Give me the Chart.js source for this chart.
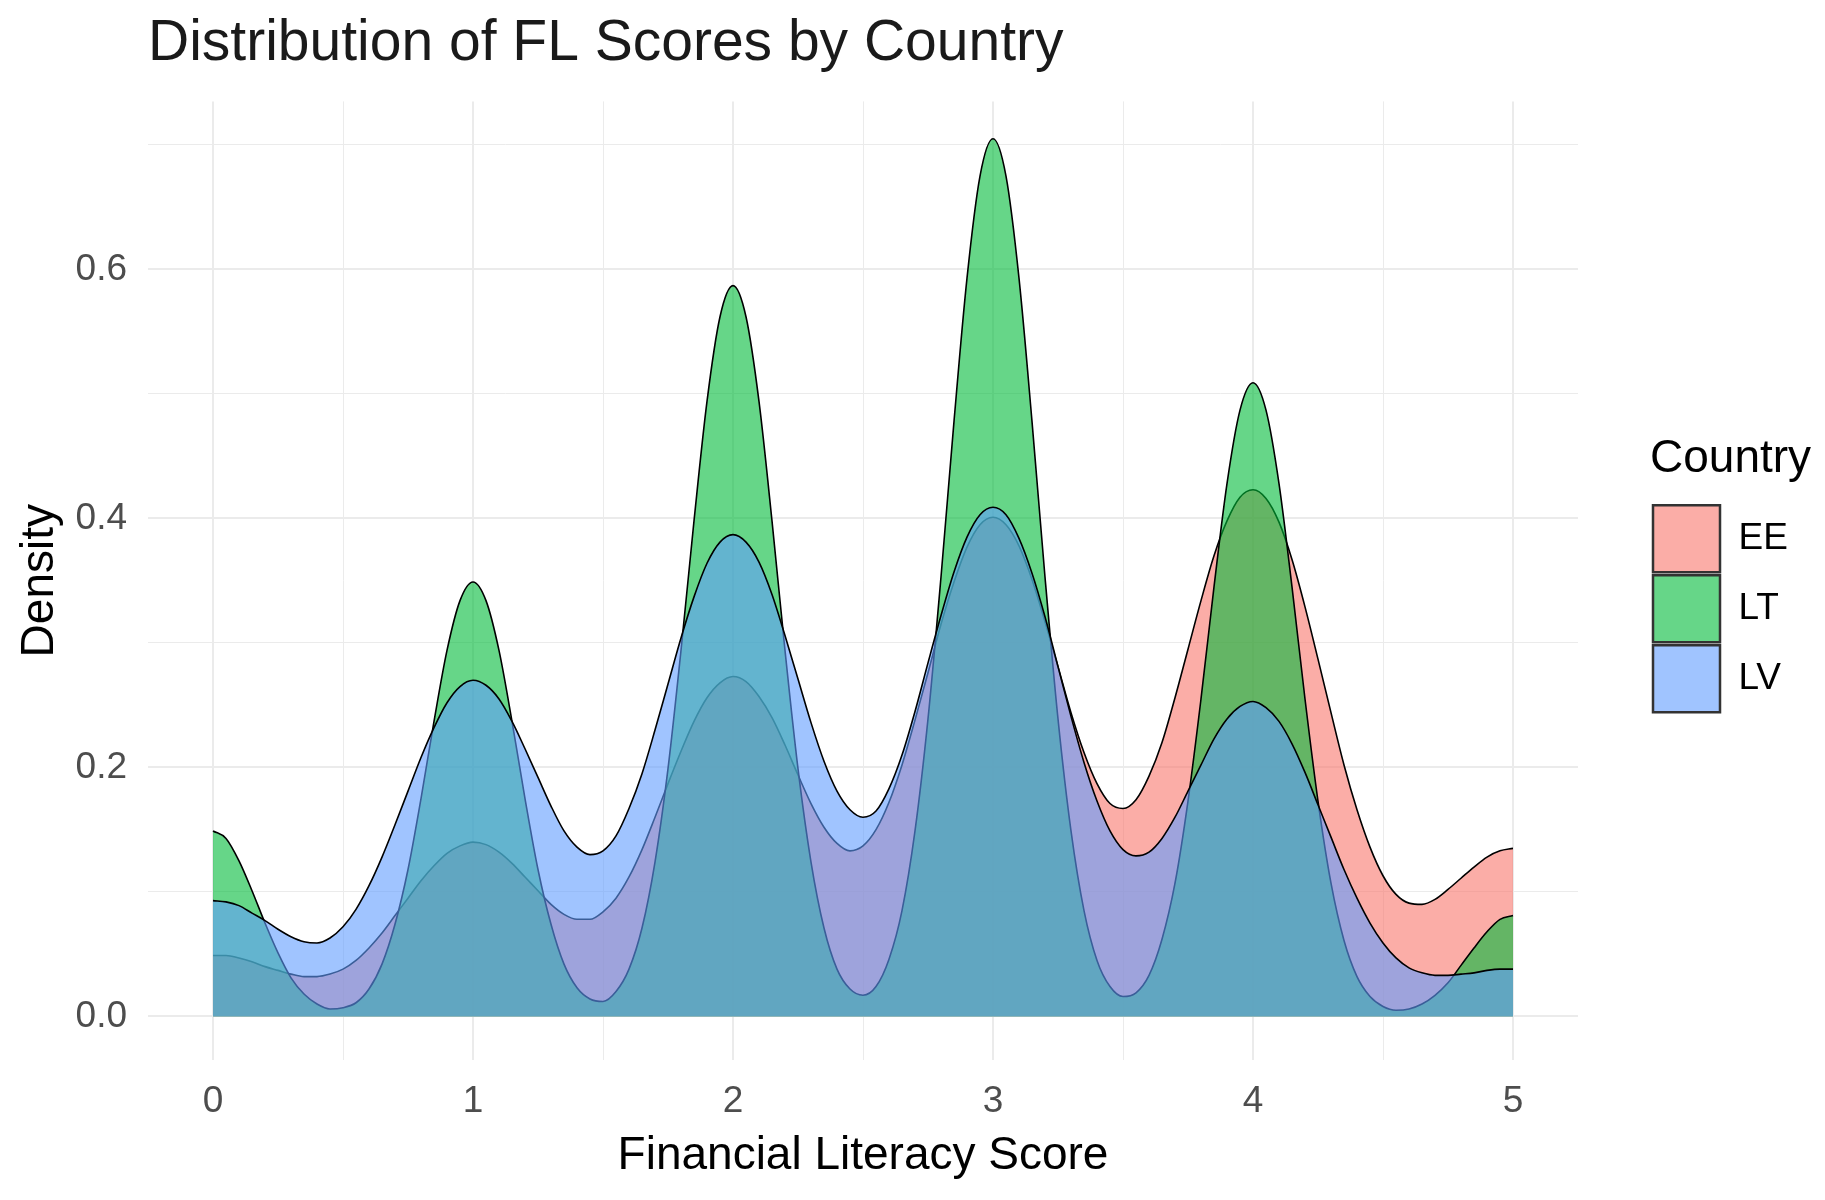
<!DOCTYPE html>
<html>
<head>
<meta charset="utf-8">
<title>Distribution of FL Scores by Country</title>
<script src="https://cdn.jsdelivr.net/npm/chart.js@4.4.1/dist/chart.umd.min.js"></script>
<style>
  html, body { margin: 0; padding: 0; background: #fff; }
  #wrap { width: 1825px; height: 1200px; }
</style>
</head>
<body>
<div id="wrap"><canvas id="densityChart" width="1825" height="1200"></canvas></div>
<script>
// groups, in ggplot layer order (EE drawn first, LV last / on top)
const countries = ['EE', 'LT', 'LV'];
const fillColors = ['rgba(248,118,109,0.6)', 'rgba(0,186,56,0.6)', 'rgba(97,156,255,0.6)'];

// score grid the densities were read at
const scores = [
  0, 0.05, 0.1, 0.15, 0.2, 0.25, 0.3, 0.35, 0.4, 0.45,
  0.5, 0.55, 0.6, 0.65, 0.7, 0.75, 0.8, 0.85, 0.9, 0.95,
  1, 1.05, 1.1, 1.15, 1.2, 1.25, 1.3, 1.35, 1.4, 1.45,
  1.5, 1.55, 1.6, 1.65, 1.7, 1.75, 1.8, 1.85, 1.9, 1.95,
  2, 2.05, 2.1, 2.15, 2.2, 2.25, 2.3, 2.35, 2.4, 2.45,
  2.5, 2.55, 2.6, 2.65, 2.7, 2.75, 2.8, 2.85, 2.9, 2.95,
  3, 3.05, 3.1, 3.15, 3.2, 3.25, 3.3, 3.35, 3.4, 3.45,
  3.5, 3.55, 3.6, 3.65, 3.7, 3.75, 3.8, 3.85, 3.9, 3.95,
  4, 4.05, 4.1, 4.15, 4.2, 4.25, 4.3, 4.35, 4.4, 4.45,
  4.5, 4.55, 4.6, 4.65, 4.7, 4.75, 4.8, 4.85, 4.9, 4.95,
  5
];

const densityEE = [
  0.049, 0.049, 0.047, 0.044, 0.040, 0.037, 0.034, 0.032, 0.032, 0.034,
  0.038, 0.045, 0.055, 0.067, 0.081, 0.095, 0.109, 0.121, 0.131, 0.137,
  0.140, 0.138, 0.132, 0.123, 0.112, 0.101, 0.090, 0.082, 0.078, 0.078,
  0.084, 0.095, 0.112, 0.134, 0.160, 0.187, 0.213, 0.237, 0.256, 0.268,
  0.273, 0.269, 0.257, 0.240, 0.218, 0.194, 0.171, 0.152, 0.139, 0.133,
  0.137, 0.150, 0.172, 0.202, 0.238, 0.276, 0.315, 0.349, 0.377, 0.395,
  0.401, 0.395, 0.378, 0.351, 0.317, 0.281, 0.244, 0.212, 0.187, 0.171,
  0.167, 0.174, 0.193, 0.220, 0.256, 0.295, 0.334, 0.370, 0.398, 0.417,
  0.423, 0.416, 0.397, 0.367, 0.329, 0.287, 0.244, 0.202, 0.166, 0.136,
  0.113, 0.098, 0.091, 0.090, 0.094, 0.102, 0.111, 0.120, 0.128, 0.133,
  0.135
];

const densityLT = [
  0.149, 0.143, 0.125, 0.101, 0.075, 0.051, 0.031, 0.018, 0.010, 0.006,
  0.007, 0.011, 0.022, 0.042, 0.074, 0.118, 0.175, 0.237, 0.294, 0.334,
  0.349, 0.334, 0.294, 0.237, 0.175, 0.118, 0.074, 0.042, 0.023, 0.014,
  0.012, 0.020, 0.038, 0.071, 0.124, 0.199, 0.294, 0.398, 0.494, 0.562,
  0.587, 0.562, 0.494, 0.398, 0.294, 0.199, 0.124, 0.071, 0.038, 0.022,
  0.017, 0.024, 0.046, 0.085, 0.149, 0.239, 0.353, 0.478, 0.593, 0.675,
  0.705, 0.675, 0.593, 0.478, 0.353, 0.239, 0.149, 0.085, 0.045, 0.024,
  0.016, 0.019, 0.033, 0.062, 0.107, 0.173, 0.255, 0.345, 0.428, 0.487,
  0.509, 0.487, 0.428, 0.345, 0.255, 0.173, 0.107, 0.061, 0.032, 0.016,
  0.008, 0.005, 0.006, 0.010, 0.017, 0.027, 0.041, 0.055, 0.068, 0.078,
  0.081
];

const densityLV = [
  0.093, 0.092, 0.089, 0.083, 0.077, 0.070, 0.064, 0.060, 0.059, 0.063,
  0.072, 0.086, 0.105, 0.128, 0.154, 0.181, 0.208, 0.232, 0.252, 0.265,
  0.270, 0.266, 0.255, 0.237, 0.215, 0.192, 0.169, 0.149, 0.136, 0.130,
  0.133, 0.145, 0.167, 0.195, 0.230, 0.267, 0.304, 0.337, 0.364, 0.381,
  0.387, 0.381, 0.365, 0.339, 0.306, 0.271, 0.236, 0.205, 0.181, 0.166,
  0.160, 0.165, 0.183, 0.210, 0.245, 0.284, 0.322, 0.357, 0.385, 0.403,
  0.409, 0.403, 0.384, 0.356, 0.321, 0.281, 0.241, 0.204, 0.173, 0.149,
  0.134, 0.129, 0.132, 0.143, 0.160, 0.181, 0.202, 0.223, 0.239, 0.249,
  0.253, 0.248, 0.237, 0.219, 0.196, 0.170, 0.144, 0.118, 0.095, 0.075,
  0.059, 0.047, 0.039, 0.035, 0.033, 0.033, 0.034, 0.035, 0.037, 0.038,
  0.038
];

// grid lines (major + minor) and which of them carry a label
const xTicks = [0, 0.5, 1, 1.5, 2, 2.5, 3, 3.5, 4, 4.5, 5];
const xLabelTicks = [0, 1, 2, 3, 4, 5];
const yTicks = [0, 0.1, 0.2, 0.3, 0.4, 0.5, 0.6, 0.7];
const yLabelTicks = [0, 0.2, 0.4, 0.6];

const seriesValues = [densityEE, densityLT, densityLV];

Chart.defaults.font.family = "'Liberation Sans', Arial, sans-serif";

const isIn = (list, v) => list.some(t => Math.abs(t - v) < 1e-9);

// legend clips to its own box, so give it room for the "Country" title
const legendWidth = {
    id: 'legendWidth',
    beforeLayout(chart) {
        const legend = chart.legend;
        if (!legend || legend._widthPatched) return;
        const fit = legend.fit;
        legend.fit = function () {
            fit.call(this);
            this.width = 175;
        };
        legend._widthPatched = true;
    }
};

new Chart(document.getElementById('densityChart'), {
    type: 'line',
    data: {
        datasets: countries.map((name, i) => ({
            label: name,
            data: scores.map((x, j) => ({ x: x, y: seriesValues[i][j] })),
            backgroundColor: fillColors[i],
            borderColor: '#000',
            borderWidth: 1.6,
            fill: 'origin',
            pointRadius: 0,
            cubicInterpolationMode: 'monotone',
            order: countries.length - i
        }))
    },
    plugins: [legendWidth],
    options: {
        responsive: false,
        devicePixelRatio: 1,
        animation: false,
        events: [],
        layout: { padding: { left: 0, right: 0, top: 0, bottom: 0 } },
        scales: {
            x: {
                type: 'linear',
                min: -0.25,
                max: 5.25,
                bounds: 'data',
                afterBuildTicks: axis => { axis.ticks = xTicks.map(v => ({ value: v })); },
                afterFit: axis => { axis.height = 140; },
                ticks: {
                    autoSkip: false,
                    maxRotation: 0,
                    padding: 20,
                    color: '#4D4D4D',
                    font: { size: 37 },
                    callback: v => isIn(xLabelTicks, v) ? String(v) : ''
                },
                grid: {
                    color: '#EBEBEB',
                    drawTicks: false,
                    lineWidth: c => (c.tick && isIn(xLabelTicks, c.tick.value)) ? 2 : 1
                },
                border: { display: false },
                title: {
                    display: true,
                    text: 'Financial Literacy Score',
                    color: '#000',
                    font: { size: 46 },
                    padding: { top: 0, bottom: 16 }
                }
            },
            y: {
                type: 'linear',
                min: -0.035,
                max: 0.735,
                bounds: 'data',
                afterBuildTicks: axis => { axis.ticks = yTicks.map(v => ({ value: v })); },
                afterFit: axis => { axis.width = 148; },
                ticks: {
                    autoSkip: false,
                    padding: 21,
                    color: '#4D4D4D',
                    font: { size: 37 },
                    callback: v => isIn(yLabelTicks, v) ? v.toFixed(1) : ''
                },
                grid: {
                    color: '#EBEBEB',
                    drawTicks: false,
                    lineWidth: c => (c.tick && isIn(yLabelTicks, c.tick.value)) ? 2 : 1
                },
                border: { display: false },
                title: {
                    display: true,
                    text: 'Density',
                    color: '#000',
                    font: { size: 46 },
                    padding: { top: 13, bottom: 0 }
                }
            },
            // empty spacer between panel and legend
            gap: {
                type: 'linear',
                position: 'right',
                afterFit: axis => { axis.width = 72; },
                ticks: { display: false },
                grid: { display: false, drawTicks: false },
                border: { display: false }
            }
        },
        plugins: {
            tooltip: { enabled: false },
            title: {
                display: true,
                text: 'Distribution of FL Scores by Country',
                align: 'start',
                fullSize: false,
                color: '#1A1A1A',
                font: { size: 57, weight: 'normal' },
                padding: { top: 10, bottom: 23 }
            },
            legend: {
                position: 'right',
                align: 'start',
                title: {
                    display: true,
                    text: 'Country',
                    position: 'start',
                    color: '#000',
                    font: { size: 46 },
                    padding: { top: 436, bottom: 11 }
                },
                labels: {
                    boxWidth: 67,
                    boxHeight: 67,
                    padding: 3,
                    color: '#000',
                    font: { size: 37 },
                    sort: (a, b) => a.datasetIndex - b.datasetIndex,
                    generateLabels: chart => Chart.defaults.plugins.legend.labels.generateLabels(chart)
                        .map(item => Object.assign(item, { lineWidth: 2.5, strokeStyle: '#333' }))
                }
            }
        }
    }
});
</script>
</body>
</html>
